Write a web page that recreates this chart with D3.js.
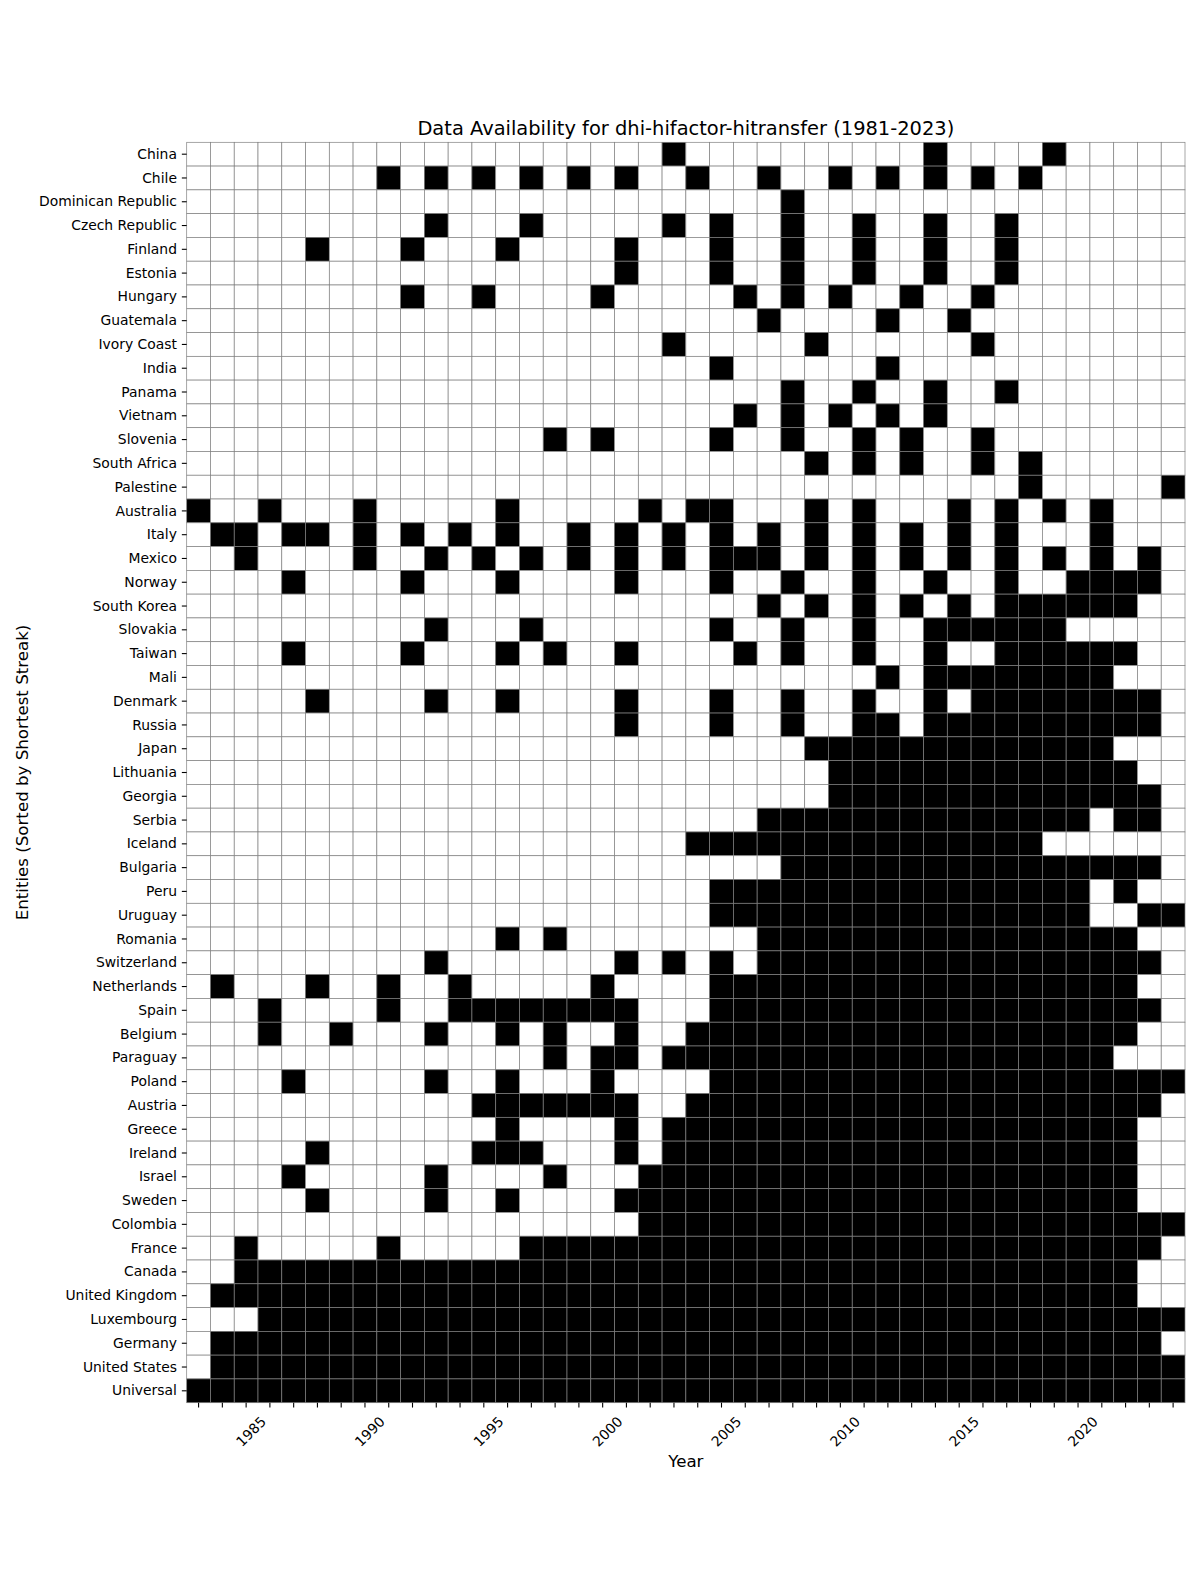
<!DOCTYPE html>
<html>
<head>
<meta charset="utf-8">
<script src="https://cdn.jsdelivr.net/npm/d3@7"></script>
<style>
  html, body { margin: 0; padding: 0; background: #ffffff; }
  svg { display: block; }
  text { font-family: "DejaVu Sans", sans-serif; fill: #000; }
</style>
</head>
<body>
<svg id="chart" width="1200" height="1589"></svg>
<script>
// ---------------- DATA ----------------
const chartTitle = "Data Availability for dhi-hifactor-hitransfer (1981-2023)";
const xAxisTitle = "Year";
const yAxisTitle = "Entities (Sorted by Shortest Streak)";

const years = [1982, 1983, 1984, 1985, 1986, 1987, 1988, 1989, 1990, 1991,
               1992, 1993, 1994, 1995, 1996, 1997, 1998, 1999, 2000, 2001,
               2002, 2003, 2004, 2005, 2006, 2007, 2008, 2009, 2010, 2011,
               2012, 2013, 2014, 2015, 2016, 2017, 2018, 2019, 2020, 2021,
               2022, 2023];

const xTickLabels = [1985, 1990, 1995, 2000, 2005, 2010, 2015, 2020];

const entities = ["China", "Chile", "Dominican Republic", "Czech Republic", "Finland",
  "Estonia", "Hungary", "Guatemala", "Ivory Coast", "India", "Panama", "Vietnam",
  "Slovenia", "South Africa", "Palestine", "Australia", "Italy", "Mexico", "Norway",
  "South Korea", "Slovakia", "Taiwan", "Mali", "Denmark", "Russia", "Japan",
  "Lithuania", "Georgia", "Serbia", "Iceland", "Bulgaria", "Peru", "Uruguay",
  "Romania", "Switzerland", "Netherlands", "Spain", "Belgium", "Paraguay", "Poland",
  "Austria", "Greece", "Ireland", "Israel", "Sweden", "Colombia", "France", "Canada",
  "United Kingdom", "Luxembourg", "Germany", "United States", "Universal"];

// one string per entity, one digit per year (1982 ... 2023): 1 = data available
const availability = [
  "0000000000 0000000000 1000000000 0100001000 00", // China
  "0000000010 1010101010 0100100101 0101010000 00", // Chile
  "0000000000 0000000000 0000010000 0000000000 00", // Dominican Republic
  "0000000000 1000100000 1010010010 0100100000 00", // Czech Republic
  "0000010001 0001000010 0010010010 0100100000 00", // Finland
  "0000000000 0000000010 0010010010 0100100000 00", // Estonia
  "0000000001 0010000100 0001010100 1001000000 00", // Hungary
  "0000000000 0000000000 0000100001 0010000000 00", // Guatemala
  "0000000000 0000000000 1000001000 0001000000 00", // Ivory Coast
  "0000000000 0000000000 0010000001 0000000000 00", // India
  "0000000000 0000000000 0000010010 0100100000 00", // Panama
  "0000000000 0000000000 0001010101 0100000000 00", // Vietnam
  "0000000000 0000010100 0010010010 1001000000 00", // Slovenia
  "0000000000 0000000000 0000001010 1001010000 00", // South Africa
  "0000000000 0000000000 0000000000 0000010000 01", // Palestine
  "1001000100 0001000001 0110001010 0010101010 00", // Australia
  "0110110101 0101001010 1010101010 1010100010 00", // Italy
  "0010000100 1010101010 1011101010 1010101010 10", // Mexico
  "0000100001 0001000010 0010010010 0100100111 10", // Norway
  "0000000000 0000000000 0000101010 1010111111 00", // South Korea
  "0000000000 1000100000 0010010010 0111111000 00", // Slovakia
  "0000100001 0001010010 0001010010 0100111111 00", // Taiwan
  "0000000000 0000000000 0000000001 0111111110 00", // Mali
  "0000010000 1001000010 0010010010 0101111111 10", // Denmark
  "0000000000 0000000010 0010010011 0111111111 10", // Russia
  "0000000000 0000000000 0000001111 1111111110 00", // Japan
  "0000000000 0000000000 0000000111 1111111111 00", // Lithuania
  "0000000000 0000000000 0000000111 1111111111 10", // Georgia
  "0000000000 0000000000 0000111111 1111111101 10", // Serbia
  "0000000000 0000000000 0111111111 1111110000 00", // Iceland
  "0000000000 0000000000 0000011111 1111111111 10", // Bulgaria
  "0000000000 0000000000 0011111111 1111111101 00", // Peru
  "0000000000 0000000000 0011111111 1111111100 11", // Uruguay
  "0000000000 0001010000 0000111111 1111111111 00", // Romania
  "0000000000 1000000010 1010111111 1111111111 10", // Switzerland
  "0100010010 0100000100 0011111111 1111111111 00", // Netherlands
  "0001000010 0111111110 0011111111 1111111111 10", // Spain
  "0001001000 1001010010 0111111111 1111111111 00", // Belgium
  "0000000000 0000010110 1111111111 1111111110 00", // Paraguay
  "0000100000 1001000100 0011111111 1111111111 11", // Poland
  "0000000000 0011111110 0111111111 1111111111 10", // Austria
  "0000000000 0001000010 1111111111 1111111111 00", // Greece
  "0000010000 0011100010 1111111111 1111111111 00", // Ireland
  "0000100000 1000010001 1111111111 1111111111 00", // Israel
  "0000010000 1001000011 1111111111 1111111111 00", // Sweden
  "0000000000 0000000001 1111111111 1111111111 11", // Colombia
  "0010000010 0000111111 1111111111 1111111111 10", // France
  "0011111111 1111111111 1111111111 1111111111 00", // Canada
  "0111111111 1111111111 1111111111 1111111111 00", // United Kingdom
  "0001111111 1111111111 1111111111 1111111111 11", // Luxembourg
  "0111111111 1111111111 1111111111 1111111111 10", // Germany
  "0111111111 1111111111 1111111111 1111111111 11", // United States
  "1111111111 1111111111 1111111111 1111111111 11"  // Universal
];

// ---------------- CHART ----------------
const W = 1200, H = 1589;
const grid = { left: 186.7, right: 1185, top: 142.3, bottom: 1402.7 };

const cells = [];
entities.forEach((name, i) => {
  const flags = availability[i].replace(/\s+/g, "");
  years.forEach((yr, j) => {
    cells.push({ entity: name, year: yr, value: +flags[j] });
  });
});

const svg = d3.select("#chart").attr("width", W).attr("height", H);
svg.append("rect").attr("width", W).attr("height", H).attr("fill", "#ffffff");

const x = d3.scaleBand().domain(years).range([grid.left, grid.right]).padding(0);
const y = d3.scaleBand().domain(entities).range([grid.top, grid.bottom]).padding(0);
const color = d3.scaleOrdinal().domain([0, 1]).range(["#ffffff", "#000000"]);

svg.append("g")
  .selectAll("rect")
  .data(cells)
  .join("rect")
  .attr("x", d => x(d.year))
  .attr("y", d => y(d.entity))
  .attr("width", x.bandwidth())
  .attr("height", y.bandwidth())
  .attr("fill", d => color(d.value))
  .attr("stroke", "#808080")
  .attr("stroke-width", 0.7);

const tickLen = 4.86;

// y axis
const yAxis = svg.append("g")
  .attr("transform", `translate(${grid.left},0)`)
  .call(d3.axisLeft(y).tickSize(tickLen).tickPadding(4.9));
yAxis.select(".domain").remove();
yAxis.selectAll(".tick line").attr("stroke", "#000").attr("stroke-width", 1.1);
yAxis.selectAll(".tick text")
  .attr("font-size", "13.9px")
  .attr("font-family", "DejaVu Sans, sans-serif")
  .attr("dy", "0.33em");

// x axis
const xAxis = svg.append("g")
  .attr("transform", `translate(0,${grid.bottom})`)
  .call(d3.axisBottom(x).tickSize(tickLen)
    .tickFormat(d => xTickLabels.includes(d) ? String(d) : ""));
xAxis.select(".domain").remove();
xAxis.selectAll(".tick line").attr("stroke", "#000").attr("stroke-width", 1.1);
xAxis.selectAll(".tick text")
  .attr("font-size", "13.9px")
  .attr("font-family", "DejaVu Sans, sans-serif")
  .attr("x", 0).attr("y", 0).attr("dy", 0)
  .attr("text-anchor", "end")
  .attr("transform", "translate(-3,19.9) rotate(-45)");

// titles
const cx = (grid.left + grid.right) / 2;
svg.append("text")
  .attr("x", cx).attr("y", 135)
  .attr("text-anchor", "middle")
  .attr("font-size", "19.44px")
  .text(chartTitle);

svg.append("text")
  .attr("x", cx).attr("y", 1467)
  .attr("text-anchor", "middle")
  .attr("font-size", "16.67px")
  .text(xAxisTitle);

svg.append("text")
  .attr("transform", `translate(28,${(grid.top + grid.bottom) / 2}) rotate(-90)`)
  .attr("text-anchor", "middle")
  .attr("font-size", "16.67px")
  .text(yAxisTitle);
</script>
</body>
</html>
